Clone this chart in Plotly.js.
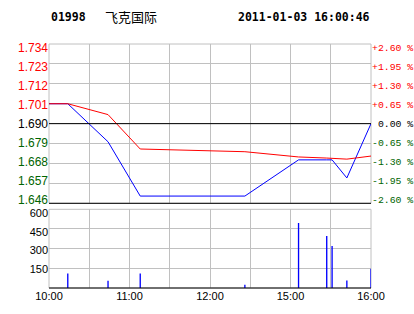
<!DOCTYPE html>
<html><head><meta charset="utf-8">
<script src="https://cdn.plot.ly/plotly-3.0.1.min.js"></script>
<style>html,body{margin:0;padding:0;background:#fff}#chart{width:414px;height:314px}</style>
</head><body><div id="chart"></div>
<script>
// ---- data ----
const stockCode = '01998';
const stockName = '飞克国际';
const stamp = '2011-01-03 16:00:46';
const prevClose = 1.690;
const priceTicks = [1.646, 1.657, 1.668, 1.679, 1.690, 1.701, 1.712, 1.723, 1.734];
const pctTicks = [-2.60, -1.95, -1.30, -0.65, 0.00, 0.65, 1.30, 1.95, 2.60];
const volTicks = [0, 150, 300, 450, 600];
const timeGrid = ['10:00','10:30','11:00','11:30','12:00','12:30','15:00','15:30','16:00'];
const timeLabels = ['10:00','','11:00','','12:00','','15:00','','16:00'];
const times = ['10:00','10:14','10:44','11:08','12:26','15:06','15:27','15:31','15:42','16:00'];
const price = [1.701, 1.701, 1.680, 1.650, 1.650, 1.670, 1.670, 1.670, 1.660, 1.690];
const avgPrice = [1.701, 1.701, 1.695, 1.676, 1.6745, 1.6716, 1.6710, 1.6708, 1.6704, 1.6721];
const volTimes = ['10:14','10:44','11:08','12:26','15:06','15:27','15:31','15:42','16:00'];
const volume = [110, 55, 110, 25, 496, 397, 321, 58, 147];

// trading-minute scale (HK session 10:00-12:30, 14:30-16:00)
function tmin(t) {
  const [h, m] = t.split(':').map(Number);
  let v = h * 60 + m - 600;
  if (v > 150) v -= 120;
  return v;
}
const RED = '#ff0000', GREEN = '#006400', BLACK = '#000000';
function colorFor(v, base) { return v > base + 1e-9 ? RED : (v < base - 1e-9 ? GREEN : BLACK); }
const priceText = priceTicks.map(v => `<span style="color:${colorFor(v, prevClose)}">${v.toFixed(3)}</span>`);
const pctText = pctTicks.map(v => {
  const s = (v > 0 ? '+' : (v < 0 ? '-' : '\u00a0')) + Math.abs(v).toFixed(2) + '\u00a0%';
  return `<span style="color:${colorFor(v, 0)}">${s}</span>`;
});
const volText = volTicks.map(v => v === 0 ? '' : String(v));

const W = 414, H = 314, ML = 49, MR = 43, MT = 44, MB = 26;
const px2x = p => (p - ML) / (W - ML - MR);
const py2y = p => (H - MB - p) / (H - MT - MB);

// labels sit slightly inside the grid ends (as in the reference): label axes use a stretched range
const LBL = 1.0509;
const pMid = prevClose, pHalf = (priceTicks[8] - priceTicks[0]) / 2 * LBL;

const GRID = '#c0c0c0';
const traces = [
  { x: times.map(tmin), y: price, type: 'scatter', mode: 'lines', line: { color: '#0000ff', width: 1 },
    xaxis: 'x', yaxis: 'y', hoverinfo: 'skip' },
  { x: times.map(tmin), y: avgPrice, type: 'scatter', mode: 'lines', line: { color: '#ff0000', width: 1 },
    xaxis: 'x', yaxis: 'y', hoverinfo: 'skip' },
  { x: volTimes.map(tmin), y: volume, type: 'bar', width: 1, marker: { color: '#0000ff', line: { width: 0 } },
    xaxis: 'x2', yaxis: 'y2', hoverinfo: 'skip' },
  { x: [0], y: [0], type: 'scatter', mode: 'none', xaxis: 'x', yaxis: 'y3', hoverinfo: 'skip' },
  { x: [0], y: [prevClose], type: 'scatter', mode: 'none', xaxis: 'x', yaxis: 'y4', hoverinfo: 'skip' },
  { x: [0], y: [0], type: 'scatter', mode: 'none', xaxis: 'x2', yaxis: 'y5', hoverinfo: 'skip' }
];

const axBase = { range: [0, 240], tickvals: timeGrid.map(tmin), showgrid: true, gridcolor: GRID, gridwidth: 1,
  zeroline: false, showline: false, ticks: '', fixedrange: true };
const sans = 'Liberation Sans, Arial, sans-serif';

const layout = {
  width: W, height: H, margin: { l: ML, r: MR, t: MT, b: MB, pad: 0 },
  paper_bgcolor: '#fff', plot_bgcolor: '#fff', showlegend: false,
  font: { family: sans, size: 12, color: '#000' },
  xaxis: Object.assign({}, axBase, { anchor: 'y', domain: [0, 1], showticklabels: false }),
  xaxis2: Object.assign({}, axBase, { anchor: 'y2', domain: [0, 1], ticktext: timeLabels, showticklabels: true,
    tickfont: { size: 11, family: sans } }),
  yaxis: { domain: [0.3471, 1], range: [priceTicks[0], priceTicks[priceTicks.length - 1]], tickvals: priceTicks,
    showticklabels: false, showgrid: true, gridcolor: GRID, zeroline: false, showline: false, ticks: '', fixedrange: true },
  yaxis4: { overlaying: 'y', side: 'left', anchor: 'x', range: [pMid - pHalf, pMid + pHalf], tickvals: priceTicks,
    ticktext: priceText, showgrid: false, zeroline: false, showline: false, ticks: '',
    tickfont: { size: 12, family: sans }, fixedrange: true },
  yaxis3: { overlaying: 'y', side: 'right', anchor: 'x', range: [-2.6 * LBL, 2.6 * LBL], tickvals: pctTicks, ticktext: pctText,
    showgrid: false, zeroline: false, showline: false, ticks: '',
    tickfont: { size: 9.8, family: 'Liberation Mono, DejaVu Sans Mono, monospace' }, fixedrange: true },
  yaxis2: { domain: [0, 0.3225], range: [0, 600], tickvals: volTicks, showticklabels: false, showgrid: true,
    gridcolor: GRID, zeroline: false, showline: false, ticks: '', fixedrange: true },
  yaxis5: { overlaying: 'y2', side: 'left', anchor: 'x2', range: [-5, 632], tickvals: volTicks, ticktext: volText,
    showgrid: false, zeroline: false, showline: false, ticks: '',
    tickfont: { size: 11, family: sans }, fixedrange: true },
  shapes: [
    { type: 'rect', xref: 'x domain', yref: 'y domain', x0: 0, x1: 1, y0: 0, y1: 1, line: { color: GRID, width: 1 }, layer: 'below' },
    { type: 'line', xref: 'x domain', yref: 'y', x0: 0, x1: 1, y0: prevClose, y1: prevClose, line: { color: BLACK, width: 1 }, layer: 'above' },
    { type: 'line', xref: 'x domain', yref: 'y domain', x0: 0, x1: 1, y0: 0, y1: 0, line: { color: BLACK, width: 1 }, layer: 'above' },
    { type: 'rect', xref: 'x2 domain', yref: 'y2 domain', x0: 0, x1: 1, y0: 0, y1: 1, line: { color: GRID, width: 1 }, layer: 'below' },
    { type: 'line', xref: 'x2 domain', yref: 'y2 domain', x0: 0, x1: 1, y0: 0, y1: 0, line: { color: BLACK, width: 1 }, layer: 'above' }
  ],
  annotations: [
    { xref: 'paper', yref: 'paper', x: px2x(49), y: py2y(16.5), xanchor: 'left', yanchor: 'middle', showarrow: false,
      text: '<b>' + stockCode + '</b>', font: { family: 'DejaVu Sans Mono, monospace', size: 11.5, color: '#000' } },
    { xref: 'paper', yref: 'paper', x: px2x(103), y: py2y(16.5), xanchor: 'left', yanchor: 'middle', showarrow: false,
      text: stockName, font: { family: 'Noto Sans CJK SC, sans-serif', size: 13, color: '#000' } },
    { xref: 'paper', yref: 'paper', x: px2x(372), y: py2y(16.5), xanchor: 'right', yanchor: 'middle', showarrow: false,
      text: '<b>' + stamp + '</b>', font: { family: 'DejaVu Sans Mono, monospace', size: 11.5, color: '#000' } }
  ]
};

Plotly.newPlot('chart', traces, layout, { displayModeBar: false, staticPlot: true });
</script>
</body></html>
